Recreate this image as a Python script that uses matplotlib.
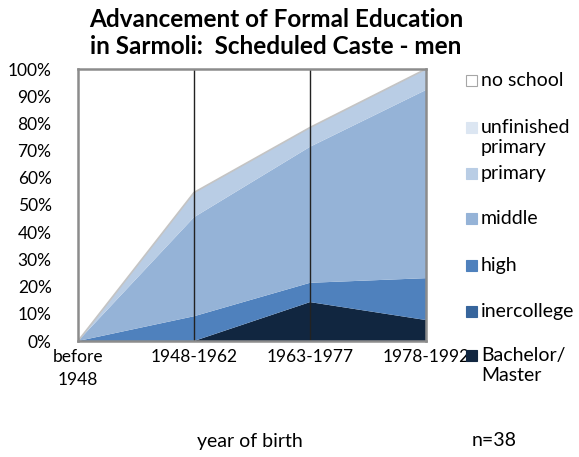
import matplotlib
matplotlib.use("Agg")
import matplotlib.pyplot as plt
from matplotlib.patches import Rectangle
from matplotlib.ticker import PercentFormatter

plt.rcParams['font.family'] = ['Lato', 'DejaVu Sans']

# share of men per birth cohort, in percent (n=38)
cohorts = ["before\n1948", "1948-1962", "1963-1977", "1978-1992"]
bachelor = [0, 0, 14.3, 7.7]
intercollege = [0, 0, 0, 0]
high = [0, 9.1, 7.1, 15.4]
middle = [0, 36.4, 50.0, 69.2]
primary = [0, 9.1, 7.1, 7.7]
unfinished = [0, 0, 0, 0]
no_school = [100, 45.5, 21.5, 0]

labels = ["Bachelor/\nMaster", "inercollege", "high", "middle",
          "primary", "unfinished\nprimary", "no school"]
colors = ["#112640", "#37659c", "#4f81bd", "#95b3d7",
          "#b9cde5", "#dce6f2", "#ffffff"]

fig = plt.figure(figsize=(5.79, 4.57), dpi=100)
W, H = 579, 457
ax = fig.add_axes([78 / W, 1 - 341 / H, 348 / W, 272 / H])

x = list(range(len(cohorts)))
layers = [bachelor, intercollege, high, middle, primary, unfinished, no_school]
ax.stackplot(x, *layers, colors=colors, linewidth=0)

# grey outline on top of the schooled share
top = [sum(v) for v in zip(bachelor, intercollege, high, middle, primary, unfinished)]
ax.plot(x, top, color="#c4c4c4", lw=1.2)

for xv in [1, 2]:
    ax.axvline(xv, color="#222222", lw=1)

ax.set_xlim(0, 3)
ax.set_ylim(0, 100)
ax.set_yticks(range(0, 101, 10))
ax.yaxis.set_major_formatter(PercentFormatter(decimals=0))
ax.set_xticks(x)
ax.set_xticklabels(cohorts, linespacing=1.55)
ax.tick_params(length=0, labelsize=12.5, colors="black")
ax.tick_params(axis="y", pad=19)
ax.tick_params(axis="x", pad=6)
for s in ax.spines.values():
    s.set_color("#8c8c8c")
    s.set_linewidth(1.8)

fig.text(276 / W, 1 - 33 / H, "Advancement of Formal Education\nin Sarmoli:  Scheduled Caste - men",
         ha="center", va="center", fontsize=17.5, fontweight="bold", linespacing=1.2)

# legend, drawn by hand to keep Excel-like spacing
leg_y = [80, 127, 173, 218, 265, 311, 355]
leg_items = list(zip(labels, colors))[::-1]
for (lab, col), yy in zip(leg_items, leg_y):
    fig.patches.append(Rectangle((466 / W, 1 - (yy + 6) / H), 11 / W, 11 / H,
                                 transform=fig.transFigure, facecolor=col,
                                 edgecolor="#a6a6a6" if col == "#ffffff" else col, lw=0.8))
    fig.text(481 / W, 1 - (yy - 8) / H, lab, ha="left", va="top", fontsize=14,
             linespacing=1.2)

fig.text(250 / W, 1 - 441 / H, "year of birth", ha="center", va="center", fontsize=14)
fig.text(494 / W, 1 - 441 / H, "n=38", ha="center", va="center", fontsize=14)

fig.savefig("out.png", dpi=100)
